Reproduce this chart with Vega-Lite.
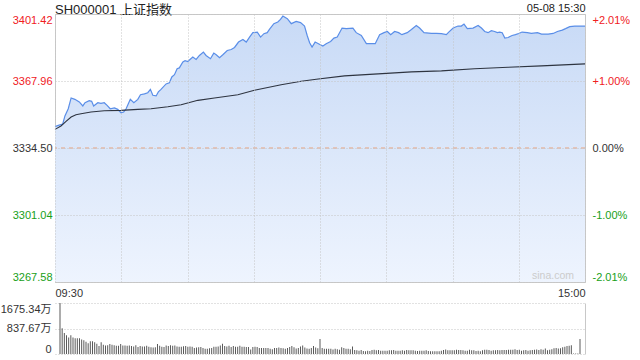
{
  "$schema": "https://vega.github.io/schema/vega-lite/v6.json",
  "background": "white",
  "padding": {"left": 0, "top": 1, "right": 4, "bottom": 2},
  "config": {
    "font": "Liberation Sans, Noto Sans CJK SC, sans-serif",
    "view": {"stroke": null},
    "axis": {
      "labelFont": "Liberation Sans, Noto Sans CJK SC, sans-serif",
      "labelFontSize": 11,
      "labelColor": "#333333",
      "ticks": false,
      "domain": false,
      "title": null,
      "gridColor": "#c4c4c4",
      "gridDash": [1, 2],
      "gridWidth": 1
    }
  },
  "datasets": {
    "price": [
      {"t": 0, "p": 3345.2}, {"t": 1.5, "p": 3345.8}, {"t": 3.5, "p": 3346.5}, {"t": 4.5, "p": 3350.5},
      {"t": 6, "p": 3354.1}, {"t": 7.3, "p": 3359.5}, {"t": 9, "p": 3358.8}, {"t": 11, "p": 3357.5},
      {"t": 12.6, "p": 3355.5}, {"t": 13.6, "p": 3357.1}, {"t": 15.5, "p": 3358.1}, {"t": 16.6, "p": 3357.8},
      {"t": 17.5, "p": 3355.5}, {"t": 19.4, "p": 3357.1}, {"t": 20.8, "p": 3356.8}, {"t": 22.3, "p": 3357.1},
      {"t": 23.6, "p": 3355.8}, {"t": 25, "p": 3354.1}, {"t": 26.9, "p": 3354.5}, {"t": 28.4, "p": 3353.8},
      {"t": 29.9, "p": 3352.1}, {"t": 31.1, "p": 3352.5}, {"t": 32.2, "p": 3354.1}, {"t": 34.1, "p": 3358.8},
      {"t": 35.7, "p": 3357.1}, {"t": 37.5, "p": 3358.8}, {"t": 38.7, "p": 3361.1}, {"t": 40.5, "p": 3361.5},
      {"t": 42, "p": 3362.1}, {"t": 43.2, "p": 3363.8}, {"t": 44.3, "p": 3360.8}, {"t": 45.8, "p": 3360.5},
      {"t": 46.8, "p": 3362.5}, {"t": 48, "p": 3363.8}, {"t": 50.3, "p": 3366.5}, {"t": 51.8, "p": 3367.1},
      {"t": 52.9, "p": 3370.0}, {"t": 54.1, "p": 3371.1}, {"t": 55.3, "p": 3374.1}, {"t": 56.3, "p": 3374.5},
      {"t": 57.9, "p": 3377.5}, {"t": 58.9, "p": 3378.1}, {"t": 60.1, "p": 3377.7}, {"t": 62.4, "p": 3379.9},
      {"t": 63.9, "p": 3378.7}, {"t": 65.4, "p": 3380.7}, {"t": 67.2, "p": 3382.4}, {"t": 68.4, "p": 3380.7},
      {"t": 70.4, "p": 3379.1}, {"t": 71.9, "p": 3381.9}, {"t": 73, "p": 3381.1}, {"t": 74.5, "p": 3379.6},
      {"t": 76, "p": 3381.1}, {"t": 78, "p": 3383.2}, {"t": 79.8, "p": 3383.7}, {"t": 81.3, "p": 3384.7},
      {"t": 83.1, "p": 3387.4}, {"t": 85.1, "p": 3388.7}, {"t": 86.6, "p": 3387.4}, {"t": 88.1, "p": 3389.9},
      {"t": 89.6, "p": 3392.1}, {"t": 91.6, "p": 3392.4}, {"t": 93.1, "p": 3389.9}, {"t": 94.6, "p": 3391.6},
      {"t": 96.1, "p": 3392.1}, {"t": 97.1, "p": 3393.7}, {"t": 99.1, "p": 3396.6}, {"t": 100.9, "p": 3397.4},
      {"t": 102.1, "p": 3398.7}, {"t": 103.2, "p": 3400.4}, {"t": 105.2, "p": 3399.1}, {"t": 107, "p": 3396.6},
      {"t": 109.2, "p": 3397.7}, {"t": 111.2, "p": 3397.1}, {"t": 113, "p": 3395.4}, {"t": 114.2, "p": 3390.7},
      {"t": 115.3, "p": 3387.1}, {"t": 116.4, "p": 3384.9}, {"t": 117.8, "p": 3387.4}, {"t": 119.3, "p": 3386.6},
      {"t": 121.3, "p": 3385.4}, {"t": 122.8, "p": 3386.6}, {"t": 124.8, "p": 3387.7}, {"t": 126.3, "p": 3389.4},
      {"t": 127.8, "p": 3389.9}, {"t": 130, "p": 3394.4}, {"t": 131.9, "p": 3394.1}, {"t": 134.9, "p": 3394.4},
      {"t": 136.4, "p": 3392.1}, {"t": 138.7, "p": 3390.7}, {"t": 141, "p": 3386.6}, {"t": 143.2, "p": 3386.6},
      {"t": 145, "p": 3386.6}, {"t": 147, "p": 3391.1}, {"t": 149, "p": 3392.1}, {"t": 150.5, "p": 3392.7},
      {"t": 152, "p": 3391.1}, {"t": 153.8, "p": 3392.7}, {"t": 155.6, "p": 3392.1}, {"t": 157.1, "p": 3391.1},
      {"t": 159.5, "p": 3392.1}, {"t": 161.4, "p": 3393.7}, {"t": 163.6, "p": 3395.7}, {"t": 165.1, "p": 3394.4},
      {"t": 167.1, "p": 3392.1}, {"t": 170.4, "p": 3391.7}, {"t": 172.7, "p": 3391.7}, {"t": 175, "p": 3391.6},
      {"t": 177.2, "p": 3391.1}, {"t": 178.3, "p": 3392.4}, {"t": 180.3, "p": 3394.4}, {"t": 182.5, "p": 3395.4},
      {"t": 184, "p": 3395.4}, {"t": 185.2, "p": 3396.4}, {"t": 186.7, "p": 3394.1}, {"t": 189.3, "p": 3394.4},
      {"t": 191.6, "p": 3395.7}, {"t": 193.1, "p": 3394.4}, {"t": 194.6, "p": 3392.7}, {"t": 196.1, "p": 3392.1},
      {"t": 197.6, "p": 3393.1}, {"t": 199.1, "p": 3392.7}, {"t": 200.3, "p": 3392.1}, {"t": 201.4, "p": 3392.4},
      {"t": 202.5, "p": 3392.1}, {"t": 203.7, "p": 3389.4}, {"t": 205.2, "p": 3389.7}, {"t": 207, "p": 3390.7},
      {"t": 208.5, "p": 3391.1}, {"t": 210, "p": 3391.7}, {"t": 211.5, "p": 3392.4}, {"t": 213.9, "p": 3392.1},
      {"t": 215.7, "p": 3391.7}, {"t": 218.5, "p": 3392.1}, {"t": 220.3, "p": 3391.4}, {"t": 223.3, "p": 3391.4},
      {"t": 225.6, "p": 3391.7}, {"t": 227.5, "p": 3392.7}, {"t": 229.7, "p": 3393.4}, {"t": 231.2, "p": 3394.1},
      {"t": 233.1, "p": 3395.1}, {"t": 235.4, "p": 3395.4}, {"t": 237.6, "p": 3395.4}, {"t": 240, "p": 3395.4}
    ],
    "avg": [
      {"t": 0, "a": 3343.8}, {"t": 2.7, "a": 3345.5}, {"t": 5, "a": 3347.8}, {"t": 7.3, "a": 3350.0},
      {"t": 9.5, "a": 3351.1}, {"t": 11.8, "a": 3351.6}, {"t": 16.3, "a": 3352.5}, {"t": 22.3, "a": 3353.1},
      {"t": 29.9, "a": 3353.3}, {"t": 37.5, "a": 3353.8}, {"t": 43.5, "a": 3354.1}, {"t": 51.1, "a": 3355.1},
      {"t": 57.1, "a": 3356.1}, {"t": 64.7, "a": 3358.3}, {"t": 72.2, "a": 3359.5}, {"t": 82.8, "a": 3361.1},
      {"t": 90.3, "a": 3363.3}, {"t": 102.4, "a": 3366.1}, {"t": 111.5, "a": 3367.8}, {"t": 118.3, "a": 3368.8},
      {"t": 131.1, "a": 3370.5}, {"t": 146.3, "a": 3371.5}, {"t": 161.4, "a": 3372.5}, {"t": 175, "a": 3373.0},
      {"t": 190, "a": 3374.1}, {"t": 205.2, "a": 3374.8}, {"t": 220.3, "a": 3375.5}, {"t": 240, "a": 3376.5}
    ],
    "vol": [
      {"t": 0, "v": 1675.34}, {"t": 1, "v": 848}, {"t": 2, "v": 690}, {"t": 3, "v": 620}, {"t": 4, "v": 540},
      {"t": 5, "v": 620}, {"t": 6, "v": 545}, {"t": 7, "v": 520}, {"t": 8, "v": 520}, {"t": 9, "v": 515},
      {"t": 10, "v": 475}, {"t": 11, "v": 450}, {"t": 12, "v": 400}, {"t": 13, "v": 350}, {"t": 14, "v": 420},
      {"t": 15, "v": 415}, {"t": 16, "v": 385}, {"t": 17, "v": 340}, {"t": 18, "v": 260}, {"t": 19, "v": 390},
      {"t": 20, "v": 300}, {"t": 21, "v": 280}, {"t": 22, "v": 290}, {"t": 23, "v": 330}, {"t": 24, "v": 300},
      {"t": 25, "v": 290}, {"t": 26, "v": 270}, {"t": 27, "v": 270}, {"t": 28, "v": 330}, {"t": 29, "v": 280},
      {"t": 30, "v": 280}, {"t": 31, "v": 275}, {"t": 32, "v": 280}, {"t": 33, "v": 260}, {"t": 34, "v": 250},
      {"t": 35, "v": 290}, {"t": 36, "v": 230}, {"t": 37, "v": 260}, {"t": 38, "v": 250}, {"t": 39, "v": 245},
      {"t": 40, "v": 270}, {"t": 41, "v": 240}, {"t": 42, "v": 225}, {"t": 43, "v": 215}, {"t": 44, "v": 220},
      {"t": 45, "v": 330}, {"t": 46, "v": 270}, {"t": 47, "v": 240}, {"t": 48, "v": 230}, {"t": 49, "v": 280},
      {"t": 50, "v": 260}, {"t": 51, "v": 290}, {"t": 52, "v": 275}, {"t": 53, "v": 280}, {"t": 54, "v": 250},
      {"t": 55, "v": 240}, {"t": 56, "v": 240}, {"t": 57, "v": 255}, {"t": 58, "v": 260}, {"t": 59, "v": 240},
      {"t": 60, "v": 250}, {"t": 61, "v": 235}, {"t": 62, "v": 200}, {"t": 63, "v": 210}, {"t": 64, "v": 220},
      {"t": 65, "v": 230}, {"t": 66, "v": 200}, {"t": 67, "v": 170}, {"t": 68, "v": 175}, {"t": 69, "v": 190},
      {"t": 70, "v": 200}, {"t": 71, "v": 240}, {"t": 72, "v": 240}, {"t": 73, "v": 250}, {"t": 74, "v": 280},
      {"t": 75, "v": 340}, {"t": 76, "v": 260}, {"t": 77, "v": 250}, {"t": 78, "v": 270}, {"t": 79, "v": 230},
      {"t": 80, "v": 260}, {"t": 81, "v": 240}, {"t": 82, "v": 240}, {"t": 83, "v": 270}, {"t": 84, "v": 240},
      {"t": 85, "v": 240}, {"t": 86, "v": 230}, {"t": 87, "v": 230}, {"t": 88, "v": 150}, {"t": 89, "v": 230},
      {"t": 90, "v": 240}, {"t": 91, "v": 230}, {"t": 92, "v": 200}, {"t": 93, "v": 200}, {"t": 94, "v": 200},
      {"t": 95, "v": 200}, {"t": 96, "v": 200}, {"t": 97, "v": 170}, {"t": 98, "v": 160}, {"t": 99, "v": 200},
      {"t": 100, "v": 200}, {"t": 101, "v": 210}, {"t": 102, "v": 200}, {"t": 103, "v": 190}, {"t": 104, "v": 170},
      {"t": 105, "v": 200}, {"t": 106, "v": 230}, {"t": 107, "v": 260}, {"t": 108, "v": 220}, {"t": 109, "v": 180},
      {"t": 110, "v": 200}, {"t": 111, "v": 250}, {"t": 112, "v": 280}, {"t": 113, "v": 210}, {"t": 114, "v": 180},
      {"t": 115, "v": 170}, {"t": 116, "v": 200}, {"t": 117, "v": 260}, {"t": 118, "v": 210}, {"t": 119, "v": 190},
      {"t": 120, "v": 490},
      {"t": 121, "v": 200}, {"t": 122, "v": 170}, {"t": 123, "v": 170}, {"t": 124, "v": 170}, {"t": 125, "v": 170},
      {"t": 126, "v": 150}, {"t": 127, "v": 170}, {"t": 128, "v": 160}, {"t": 129, "v": 140}, {"t": 130, "v": 220},
      {"t": 131, "v": 200}, {"t": 132, "v": 170}, {"t": 133, "v": 170}, {"t": 134, "v": 160}, {"t": 135, "v": 250},
      {"t": 136, "v": 130}, {"t": 137, "v": 120}, {"t": 138, "v": 110}, {"t": 139, "v": 130}, {"t": 140, "v": 100},
      {"t": 141, "v": 90}, {"t": 142, "v": 110}, {"t": 143, "v": 100}, {"t": 144, "v": 130}, {"t": 145, "v": 140},
      {"t": 146, "v": 120}, {"t": 147, "v": 130}, {"t": 148, "v": 110}, {"t": 149, "v": 110}, {"t": 150, "v": 110},
      {"t": 151, "v": 110}, {"t": 152, "v": 120}, {"t": 153, "v": 120}, {"t": 154, "v": 130}, {"t": 155, "v": 110},
      {"t": 156, "v": 110}, {"t": 157, "v": 110}, {"t": 158, "v": 120}, {"t": 159, "v": 110}, {"t": 160, "v": 130},
      {"t": 161, "v": 120}, {"t": 162, "v": 120}, {"t": 163, "v": 120}, {"t": 164, "v": 110}, {"t": 165, "v": 100},
      {"t": 166, "v": 110}, {"t": 167, "v": 110}, {"t": 168, "v": 110}, {"t": 169, "v": 120}, {"t": 170, "v": 100},
      {"t": 171, "v": 90}, {"t": 172, "v": 90}, {"t": 173, "v": 90}, {"t": 174, "v": 90}, {"t": 175, "v": 90},
      {"t": 176, "v": 110}, {"t": 177, "v": 130}, {"t": 178, "v": 150}, {"t": 179, "v": 120}, {"t": 180, "v": 120},
      {"t": 181, "v": 120}, {"t": 182, "v": 120}, {"t": 183, "v": 140}, {"t": 184, "v": 130}, {"t": 185, "v": 130},
      {"t": 186, "v": 120}, {"t": 187, "v": 110}, {"t": 188, "v": 110}, {"t": 189, "v": 140}, {"t": 190, "v": 120},
      {"t": 191, "v": 120}, {"t": 192, "v": 100}, {"t": 193, "v": 110}, {"t": 194, "v": 90}, {"t": 195, "v": 120},
      {"t": 196, "v": 140}, {"t": 197, "v": 140}, {"t": 198, "v": 130}, {"t": 199, "v": 110}, {"t": 200, "v": 120},
      {"t": 201, "v": 120}, {"t": 202, "v": 130}, {"t": 203, "v": 120}, {"t": 204, "v": 130}, {"t": 205, "v": 130},
      {"t": 206, "v": 130}, {"t": 207, "v": 140}, {"t": 208, "v": 140}, {"t": 209, "v": 140}, {"t": 210, "v": 160},
      {"t": 211, "v": 130}, {"t": 212, "v": 140}, {"t": 213, "v": 110}, {"t": 214, "v": 120}, {"t": 215, "v": 130},
      {"t": 216, "v": 110}, {"t": 217, "v": 120}, {"t": 218, "v": 130}, {"t": 219, "v": 140}, {"t": 220, "v": 150},
      {"t": 221, "v": 130}, {"t": 222, "v": 160}, {"t": 223, "v": 140}, {"t": 224, "v": 180}, {"t": 225, "v": 120},
      {"t": 226, "v": 140}, {"t": 227, "v": 160}, {"t": 228, "v": 190}, {"t": 229, "v": 200}, {"t": 230, "v": 180},
      {"t": 231, "v": 190}, {"t": 232, "v": 220}, {"t": 233, "v": 240}, {"t": 234, "v": 260}, {"t": 235, "v": 270},
      {"t": 236, "v": 290}, {"t": 237, "v": 15}, {"t": 238, "v": 15}, {"t": 239, "v": 15}, {"t": 240, "v": 490}
    ]
  },
  "spacing": 21,
  "bounds": "flush",
  "vconcat": [
    {
      "width": 530,
      "height": 268,
      "view": {"stroke": "#c8c8c8"},
      "title": {
        "text": "SH000001 上证指数",
        "anchor": "start",
        "frame": "group",
        "fontSize": 13,
        "fontWeight": "normal",
        "color": "#222222",
        "offset": -15
      },
      "resolve": {"axis": {"x": "independent", "y": "independent"}},
      "layer": [
        {
          "data": {"name": "price"},
          "mark": {
            "type": "area",
            "color": {
              "gradient": "linear",
              "x1": 0, "y1": 0, "x2": 0, "y2": 1,
              "stops": [
                {"offset": 0, "color": "#c8daf6"},
                {"offset": 1, "color": "#eef4fe"}
              ]
            }
          },
          "encoding": {
            "x": {
              "field": "t", "type": "quantitative",
              "scale": {"domain": [0, 240], "nice": false, "zero": false},
              "axis": {
                "orient": "bottom",
                "values": [0, 30, 60, 90, 120, 150, 180, 210, 240],
                "labelExpr": "datum.value == 0 ? '09:30' : (datum.value == 240 ? '15:00' : '')",
                "labelFlush": true,
                "labelPadding": 5,
                "grid": true,
                "zindex": 1
              }
            },
            "y": {
              "field": "p", "type": "quantitative",
              "scale": {"domain": [3267.58, 3401.42], "nice": false, "zero": false},
              "axis": {
                "orient": "left",
                "values": [3267.58, 3301.04, 3334.50, 3367.96, 3401.42],
                "labelExpr": "format(datum.value, '.2f')",
                "labelFlush": true,
                "labelPadding": 3,
                "grid": true,
                "zindex": 1,
                "labelColor": {
                  "condition": [
                    {"test": "datum.value > 3335", "value": "#f0201e"},
                    {"test": "datum.value < 3334", "value": "#18a018"}
                  ],
                  "value": "#333333"
                }
              }
            },
            "y2": {"datum": 3267.58}
          }
        },
        {
          "data": {"name": "price"},
          "mark": {"type": "line", "color": "#5a8ee8", "strokeWidth": 1.2},
          "encoding": {
            "x": {
              "field": "t", "type": "quantitative",
              "axis": {
                "orient": "top",
                "values": [240],
                "labelExpr": "'05-08 15:30'",
                "labelFlush": true,
                "labelPadding": 1,
                "labelColor": "#222222",
                "grid": false
              }
            },
            "y": {
              "field": "p", "type": "quantitative",
              "axis": {
                "orient": "right",
                "values": [3267.58, 3301.04, 3334.50, 3367.96, 3401.42],
                "labelExpr": "(abs(datum.value / 3334.5 - 1) < 0.00001 ? '' : (datum.value > 3334.5 ? '+' : '-')) + format(abs((datum.value / 3334.5 - 1) * 100), '.2f') + '%'",
                "labelFlush": true,
                "labelPadding": 7,
                "grid": false,
                "labelColor": {
                  "condition": [
                    {"test": "datum.value > 3335", "value": "#f0201e"},
                    {"test": "datum.value < 3334", "value": "#18a018"}
                  ],
                  "value": "#333333"
                }
              }
            }
          }
        },
        {
          "data": {"name": "avg"},
          "mark": {"type": "line", "color": "#2e3440", "strokeWidth": 1.1},
          "encoding": {
            "x": {"field": "t", "type": "quantitative", "axis": null},
            "y": {"field": "a", "type": "quantitative", "axis": null}
          }
        },
        {
          "data": {"values": [{}]},
          "mark": {"type": "rule", "color": "#e8a07c", "strokeDash": [4, 4], "strokeWidth": 1},
          "encoding": {
            "y": {"datum": 3334.5, "type": "quantitative", "axis": null}
          }
        },
        {
          "data": {"values": [{}]},
          "mark": {"type": "text", "text": "sina.com", "align": "right", "baseline": "bottom", "dx": -11, "dy": -1, "fontSize": 10.5, "color": "#cccccc"},
          "encoding": {
            "x": {"datum": 240, "type": "quantitative", "axis": null},
            "y": {"datum": 3267.58, "type": "quantitative", "axis": null}
          }
        }
      ]
    },
    {
      "width": 530,
      "height": 51,
      "resolve": {"axis": {"y": "independent"}},
      "layer": [
        {
          "data": {"name": "vol"},
          "mark": {"type": "bar", "width": 1, "color": "#5a5a5a"},
          "encoding": {
            "x": {"field": "t", "type": "quantitative", "scale": {"domain": [0, 240], "nice": false, "zero": false}, "axis": null},
            "y": {
              "field": "v", "type": "quantitative",
              "scale": {"domain": [0, 1675.34], "nice": false},
              "axis": {
                "orient": "left",
                "values": [0, 837.67, 1675.34],
                "labelExpr": "datum.value == 0 ? '0' : format(datum.value, '.2f') + '万'",
                "labelFlush": true,
                "labelPadding": 4,
                "grid": true
              }
            }
          }
        },
        {
          "data": {"name": "vol"},
          "mark": {"type": "bar", "width": 1, "opacity": 0},
          "encoding": {
            "x": {"field": "t", "type": "quantitative", "axis": null},
            "y": {
              "field": "v", "type": "quantitative",
              "axis": {"orient": "right", "labels": false, "grid": false, "domain": true, "domainColor": "#c8c8c8", "values": []}
            }
          }
        }
      ]
    }
  ]
}
